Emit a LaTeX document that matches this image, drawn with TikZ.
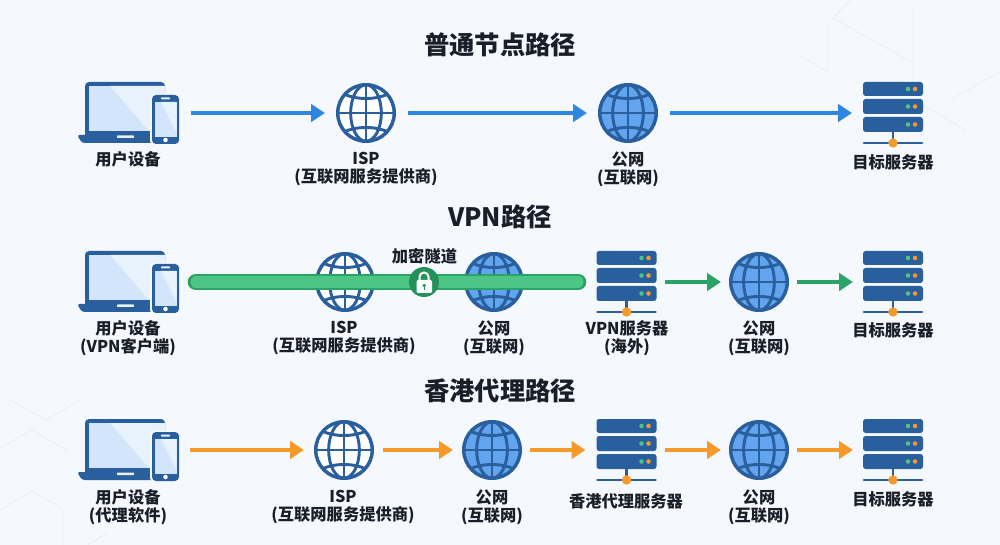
\documentclass[tikz,border=0pt]{standalone}
\usepackage{fontspec}
\setmainfont{Noto Sans CJK SC}
\usetikzlibrary{arrows.meta}
\definecolor{bgcol}{HTML}{F5F9FD}
\definecolor{decocol}{HTML}{EAF0F6}
\definecolor{darkblue}{HTML}{2A5F9E}
\definecolor{screencol}{HTML}{D3E5FA}
\definecolor{screenlite}{HTML}{E8F2FC}
\definecolor{globecol}{HTML}{62A5EE}
\definecolor{bluearr}{HTML}{2F86E0}
\definecolor{greenarr}{HTML}{2AA465}
\definecolor{orangearr}{HTML}{F59A2A}
\definecolor{tunnelfill}{HTML}{4CC585}
\definecolor{lockcol}{HTML}{22915A}
\definecolor{textcol}{HTML}{1A1E28}
\tikzset{
	lbl/.style={font=\fontsize{12.2}{13.5}\selectfont\bfseries,text=textcol,align=center,inner sep=0,yshift=-0.75pt},
	titlelbl/.style={font=\fontsize{19}{22}\selectfont\bfseries,text=textcol,inner sep=0},
	iconbox/.style={inner sep=0,outer sep=0,minimum height=46.5pt},
	laptopbox/.style={iconbox,minimum width=75.75pt},
	globebox/.style={iconbox,minimum width=45pt},
	serverbox/.style={iconbox,minimum width=45pt},
	deco/.style={draw=decocol,line width=0.7pt},
	link/.style={-{Triangle[length=10.5pt,width=13pt]},line width=2.6pt,shorten <=6pt,shorten >=6pt},
	bluelink/.style={link,bluearr,shorten <=9pt,shorten >=8.25pt},
	greenlink/.style={link,greenarr},
	orangelink/.style={link,orangearr},
	tunnel/.style={line cap=round,line width=2pt,draw=greenarr,double=tunnelfill,double distance=8.5pt},
	pics/laptop/.style={code={
		\fill[darkblue,rounded corners=3pt] (-43,-31) rectangle (37,26);
		\fill[screencol] (-39,-27) rectangle (37,18);
		\fill[screenlite] (-18,-27) -- (37,-27) -- (37,18) -- (21,18) -- cycle;
		\fill[darkblue,rounded corners=2pt] (-51,22) -- (42,22) -- (42,30) -- (-46,30) -- cycle;
		\fill[screenlite,rounded corners=0.5pt] (-11,22.5) rectangle (6,25);
		\fill[bgcol,rounded corners=3pt] (22,-19.5) rectangle (52.5,32);
		\fill[darkblue,rounded corners=3pt] (24,-18) rectangle (51,31);
		\fill[screencol] (26.5,-11) rectangle (48.5,24);
		\fill[screenlite] (33,-11) -- (48.5,-11) -- (48.5,20) -- cycle;
		\fill[screenlite,rounded corners=0.5pt] (33,-15.5) rectangle (42,-13.5);
		\fill[white] (37.5,27) circle (1.7pt);
	}},
	pics/globe/.style={code={
		\fill[#1] (0,0) circle (21.2pt);
		\draw[darkblue,line width=2.6pt] (0,0) circle (21.2pt);
		\draw[darkblue,line width=2.2pt] (0,-28) -- (0,28) (-28,0) -- (28,0);
		\draw[darkblue,line width=2.2pt] (0,0) ellipse (11.5pt and 21.2pt);
		\draw[darkblue,line width=2.2pt] (-22,-19) .. controls (-10,-13) and (10,-13) .. (22,-19);
		\draw[darkblue,line width=2.2pt] (-22,19) .. controls (-10,13) and (10,13) .. (22,19);
	}},
	pics/server/.style={code={
		\fill[darkblue,rounded corners=2pt] (-30,-31) rectangle (30,-17);
		\fill[darkblue,rounded corners=2pt] (-30,-14) rectangle (30,1);
		\fill[darkblue,rounded corners=2pt] (-30,4) rectangle (30,19);
		\foreach \yy in {-24,-6.5,11.5} {
			\fill[tunnelfill] (15,\yy) circle (1.7pt);
			\fill[orangearr] (22,\yy) circle (1.7pt);
		}
		\draw[darkblue,line width=2.2pt] (0,19) -- (0,30);
		\draw[darkblue,line width=2.2pt,line cap=round] (-29,30) -- (29,30);
		\fill[orangearr] (0,30) circle (3.5pt);
	}}
}
\begin{document}
\begin{tikzpicture}[x=0.75pt,y=-0.75pt]
	\fill[bgcol] (0,0) rectangle (1000,545);
	\useasboundingbox (0,0) rectangle (1000,545);

	% faint background lines
	\draw[deco] (850,0) -- (833,18) -- (913,63) -- (913,8);
	\draw[deco] (913,63) -- (913,85);
	\draw[deco] (828,27) -- (828,72) -- (800,56);
	\draw[deco] (950,100) -- (1000,72);
	\draw[deco] (923,105) -- (965,130);
	\draw[deco] (10,400) -- (46,420) -- (80,400);
	\draw[deco] (0,448) -- (32,430) -- (68,451);
	\draw[deco] (0,510) -- (32,491) -- (63,509) -- (63,545);
	\draw[deco] (88,545) -- (107,533);

	% row 1
	\node[titlelbl] (title1) at (500,45) {普通节点路径};
	\node[laptopbox] (dev1) at (128,113) {};
	\node[globebox] (isp1) at (366,113) {};
	\node[globebox] (net1) at (628,113) {};
	\node[serverbox] (srv1) at (893,113) {};
	\pic at (dev1) {laptop};
	\pic at (isp1) {globe=white};
	\pic at (net1) {globe=globecol};
	\pic at (srv1) {server};
	\draw[bluelink] (dev1) -- (isp1);
	\draw[bluelink] (isp1) -- (net1);
	\draw[bluelink] (net1) -- (srv1);
	\node[lbl] (devtxt1) at (128,158) {用户设备};
	\node[lbl] (isptxt1) at (366,168.5) {ISP\\(互联网服务提供商)};
	\node[lbl] (nettxt1) at (628,168.5) {公网\\(互联网)};
	\node[lbl] (srvtxt1) at (893,161) {目标服务器};

	% row 2
	\node[titlelbl] (title2) at (500,217) {VPN路径};
	\node[laptopbox] (dev2) at (128,282) {};
	\node[globebox] (isp2) at (345,282) {};
	\node[globebox] (net2) at (494,282) {};
	\node[serverbox] (vpn2) at (626.5,282) {};
	\node[globebox] (pub2) at (759,282) {};
	\node[serverbox] (srv2) at (893,282) {};
	\pic at (dev2) {laptop};
	\pic at (isp2) {globe=white};
	\pic at (net2) {globe=globecol};
	\pic at (vpn2) {server};
	\pic at (pub2) {globe=globecol};
	\pic at (srv2) {server};
	\coordinate (tunnelL) at (196,282);
	\coordinate (tunnelR) at (578,282);
	\draw[tunnel] (tunnelL) -- (tunnelR);
	\node[circle,fill=lockcol,minimum size=22.5pt,inner sep=0] (lock) at (424,282) {};
	\fill[white,rounded corners=1pt] (416.5,280) rectangle (432,293);
	\draw[white,line width=1.5pt] (419.5,281) -- (419.5,277) arc[start angle=180,end angle=0,radius=3.4pt] -- (428.5,281);
	\fill[lockcol] (424.2,285.5) circle (1.4pt);
	\draw[lockcol,line width=0.8pt] (424.2,285.5) -- (424.2,290);
	\draw[greenlink] (vpn2) -- (pub2);
	\draw[greenlink,shorten >=7.5pt] (pub2) -- (srv2);
	\node[lbl] (tunneltxt) at (424.5,255) {加密隧道};
	\node[lbl] (devtxt2) at (128,337) {用户设备\\(VPN客户端)};
	\node[lbl] (isptxt2) at (344,337) {ISP\\(互联网服务提供商)};
	\node[lbl] (nettxt2) at (494,337) {公网\\(互联网)};
	\node[lbl] (vpntxt2) at (627,337) {VPN服务器\\(海外)};
	\node[lbl] (pubtxt2) at (759,337) {公网\\(互联网)};
	\node[lbl] (srvtxt2) at (893,329) {目标服务器};

	% row 3
	\node[titlelbl] (title3) at (500,391) {香港代理路径};
	\node[laptopbox] (dev3) at (128,450) {};
	\node[globebox] (isp3) at (344,450) {};
	\node[globebox] (net3) at (492,450) {};
	\node[serverbox] (prx3) at (626.5,450) {};
	\node[globebox] (pub3) at (759,450) {};
	\node[serverbox] (srv3) at (893,450) {};
	\pic at (dev3) {laptop};
	\pic at (isp3) {globe=white};
	\pic at (net3) {globe=globecol};
	\pic at (prx3) {server};
	\pic at (pub3) {globe=globecol};
	\pic at (srv3) {server};
	\draw[orangelink,shorten <=8.25pt,shorten >=7.5pt] (dev3) -- (isp3);
	\draw[orangelink,shorten <=6.75pt,shorten >=6.75pt] (isp3) -- (net3);
	\draw[orangelink,shorten >=8.25pt] (net3) -- (prx3);
	\draw[orangelink] (prx3) -- (pub3);
	\draw[orangelink,shorten >=7.5pt] (pub3) -- (srv3);
	\node[lbl] (devtxt3) at (128,506) {用户设备\\(代理软件)};
	\node[lbl] (isptxt3) at (343,506) {ISP\\(互联网服务提供商)};
	\node[lbl] (nettxt3) at (492,506) {公网\\(互联网)};
	\node[lbl] (prxtxt3) at (626,500) {香港代理服务器};
	\node[lbl] (pubtxt3) at (759,506) {公网\\(互联网)};
	\node[lbl] (srvtxt3) at (893,498) {目标服务器};
\end{tikzpicture}
\end{document}
